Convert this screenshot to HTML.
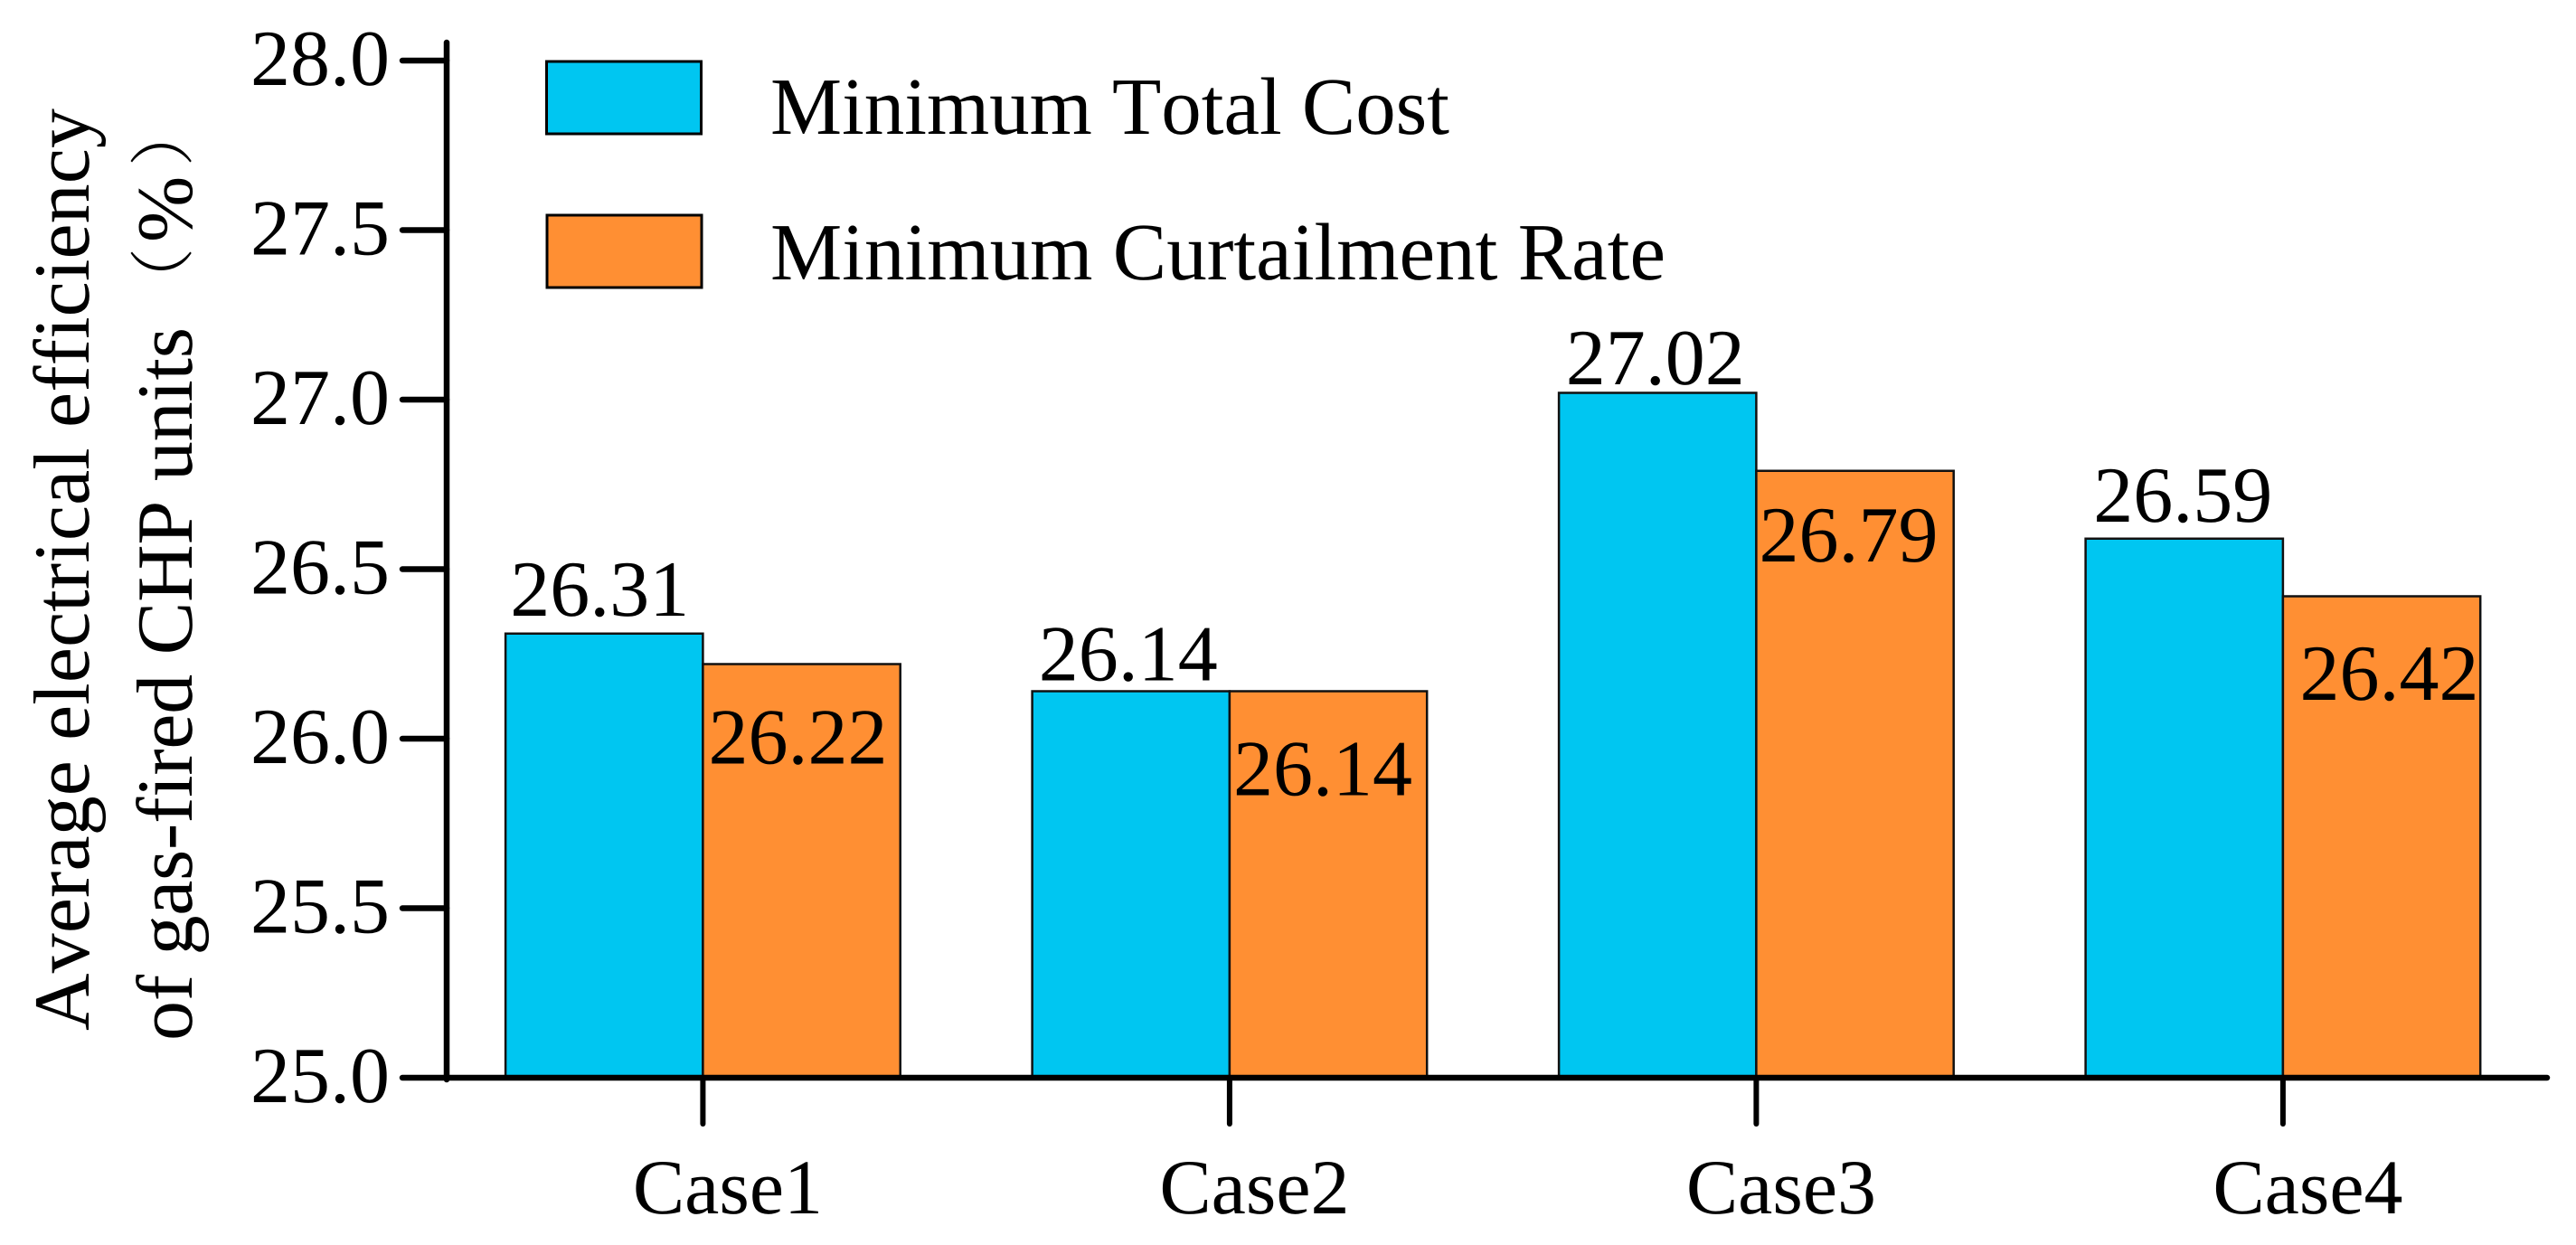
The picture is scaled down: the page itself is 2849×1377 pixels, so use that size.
<!DOCTYPE html>
<html lang="en">
<head>
<meta charset="utf-8">
<title>Average electrical efficiency of gas-fired CHP units</title>
<style>
  html, body { margin: 0; padding: 0; background: #fff; }
  svg { display: block; text-rendering: geometricPrecision; }
  text { font-family: "Liberation Serif", "Noto Serif CJK SC", serif; fill: #000; font-kerning: none; }
  .cjk { font-family: "Noto Serif CJK SC", "Liberation Serif", serif; font-weight: 300; }
</style>
</head>
<body>
<svg id="chart" xmlns="http://www.w3.org/2000/svg" width="2849" height="1377" viewBox="0 0 2849 1377">
  <rect x="0" y="0" width="2849" height="1377" fill="#ffffff"/>
  <g id="bars"></g>
  <g id="axes"></g>
  <g id="value-labels"></g>
  <g>
    <text transform="translate(98,1140) rotate(-90)" font-size="88" textLength="1020" lengthAdjust="spacing">Average electrical efficiency</text>
    <text transform="translate(212,1151) rotate(-90)" font-size="88" textLength="789" lengthAdjust="spacing">of gas-fired CHP units</text>
    <text class="cjk" transform="translate(205.5,346) rotate(-90)" font-size="72">（</text>
    <text transform="translate(212,268) rotate(-90)" font-size="88">%</text>
    <text class="cjk" transform="translate(205.5,184) rotate(-90)" font-size="72">）</text>
  </g>
  <g>
    <g>
      <rect x="604.5" y="68" width="171" height="80" fill="#00C6F1" stroke="#000" stroke-width="3"/>
      <text x="852" y="148" font-size="90" textLength="751" lengthAdjust="spacingAndGlyphs">Minimum Total Cost</text>
    </g>
    <g>
      <rect x="605" y="238" width="171" height="80" fill="#FF8F33" stroke="#000" stroke-width="3"/>
      <text x="852" y="309" font-size="90" textLength="990" lengthAdjust="spacingAndGlyphs">Minimum Curtailment Rate</text>
    </g>
  </g>
</svg>
<script>
const categories = ["Case1", "Case2", "Case3", "Case4"];
const minimumTotalCost = [26.31, 26.14, 27.02, 26.59];
const minimumCurtailmentRate = [26.22, 26.14, 26.79, 26.42];
const yTickValues = [25.0, 25.5, 26.0, 26.5, 27.0, 27.5, 28.0];
const yTickLabels = ["25.0", "25.5", "26.0", "26.5", "27.0", "27.5", "28.0"];

const NS = "http://www.w3.org/2000/svg";
const yScale = v => 1192 - (v - 25) * 375;
const xScale = i => 777.4 + 582.5 * i;
const BAR_W = 218.3;

function make(tag, attrs, parent, content) {
  const el = document.createElementNS(NS, tag);
  for (const k in attrs) el.setAttribute(k, attrs[k]);
  if (content !== undefined) el.textContent = content;
  parent.appendChild(el);
  return el;
}

const barsG = document.getElementById("bars");
const axesG = document.getElementById("axes");
const labelsG = document.getElementById("value-labels");

// Hand placement of each value label relative to its bar top / bar centre.
const costLabelShift = [[-5, -20], [-3, -12], [-2.5, -9.5], [-1.5, -19]];
const curtailLabelShift = [[-4, 110], [-6, 115], [-7, 100], [8.5, 114.5]];

categories.forEach((name, i) => {
  const cx = xScale(i);
  const costTop = yScale(minimumTotalCost[i]);
  const curtailTop = yScale(minimumCurtailmentRate[i]);
  const base = yScale(25);

  const b1 = make("rect", { x: cx - BAR_W, y: costTop, width: BAR_W, height: base - costTop, fill: "#00C6F1", stroke: "#111", "stroke-width": 2.5 }, barsG);
  
  

  const b2 = make("rect", { x: cx, y: curtailTop, width: BAR_W, height: base - curtailTop, fill: "#FF8F33", stroke: "#111", "stroke-width": 2.5 }, barsG);
  
  

  const l1 = make("text", { x: cx - BAR_W / 2 + costLabelShift[i][0], y: costTop + costLabelShift[i][1], "font-size": 88, "text-anchor": "middle" }, labelsG, minimumTotalCost[i].toFixed(2));
  
  

  const l2 = make("text", { x: cx + BAR_W / 2 + curtailLabelShift[i][0], y: curtailTop + curtailLabelShift[i][1], "font-size": 88, "text-anchor": "middle" }, labelsG, minimumCurtailmentRate[i].toFixed(2));
  
  

  const tick = make("line", { x1: cx, x2: cx, y1: base, y2: 1243, stroke: "#000", "stroke-width": 6, "stroke-linecap": "round" }, axesG);
  
  

  const cat = make("text", { x: cx + 27.5, y: 1342, "font-size": 86, "text-anchor": "middle" }, axesG, name);
  
  
});

yTickValues.forEach((v, i) => {
  const y = yScale(v);
  const tick = make("line", { x1: 445, x2: 494, y1: y, y2: y, stroke: "#000", "stroke-width": 6.5, "stroke-linecap": "round" }, axesG);
  
  

  const lab = make("text", { x: 431, y: y + 27, "font-size": 88, "text-anchor": "end" }, axesG, yTickLabels[i]);
  
  
});

const yAxisLine = make("line", { x1: 494, x2: 494, y1: 47, y2: 1194, stroke: "#000", "stroke-width": 6.5, "stroke-linecap": "round" }, axesG);



const xAxisLine = make("line", { x1: 494, x2: 2817, y1: yScale(25), y2: yScale(25), stroke: "#000", "stroke-width": 6.5, "stroke-linecap": "round" }, axesG);


</script>
</body>
</html>
